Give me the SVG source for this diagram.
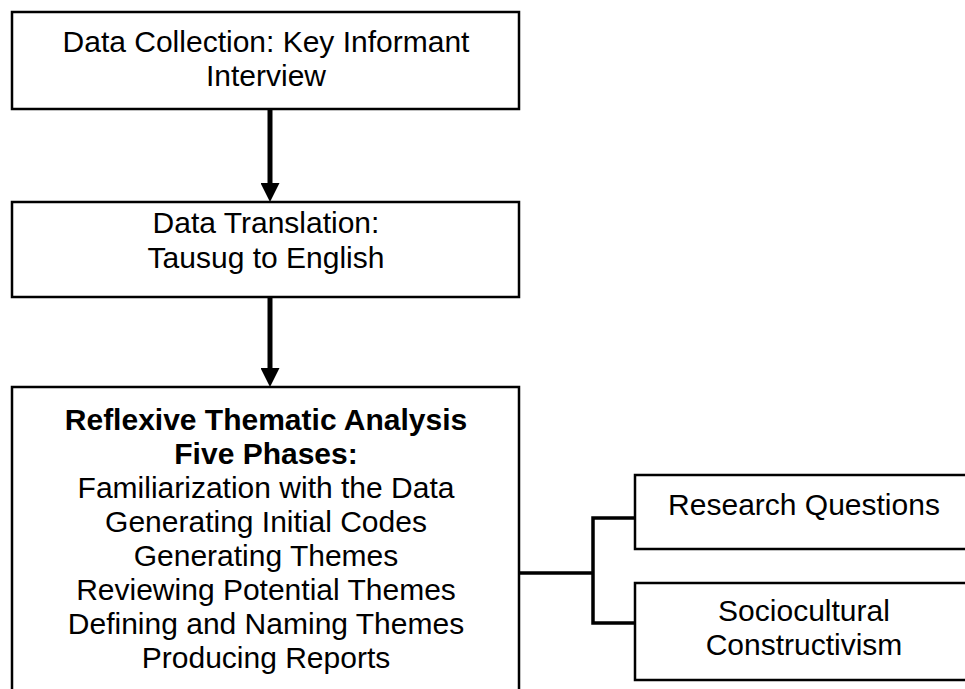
<svg xmlns="http://www.w3.org/2000/svg" width="965" height="689" viewBox="0 0 965 689">
<style>
.box{fill:#fff;stroke:#000;stroke-width:2.5}
.t{font-family:"Liberation Sans",Arial,sans-serif;font-size:30px;fill:#000;text-anchor:middle}
.b{font-weight:bold}
.arrow{stroke:#000;stroke-width:5;fill:none}
.bracket{stroke:#000;stroke-width:3.5;fill:none}
</style>
<defs>
<marker id="ah" markerUnits="userSpaceOnUse" markerWidth="19" markerHeight="19" refX="7" refY="9.5" orient="auto" viewBox="0 0 19 19">
<path d="M0,0 L19,9.5 L0,19 z" fill="#000"/>
</marker>
</defs>
<g id="n1">
<rect class="box" x="12" y="12" width="507" height="97"/>
<text class="t" x="266" y="52">Data Collection: Key Informant</text>
<text class="t" x="266" y="86">Interview</text>
</g>
<g id="n2">
<rect class="box" x="12" y="202" width="507" height="95"/>
<text class="t" x="266" y="233">Data Translation:</text>
<text class="t" x="266" y="268">Tausug to English</text>
</g>
<g id="n3">
<path class="box" d="M12,695 V387 H519 V695"/>
<text class="t b" x="266" y="430">Reflexive Thematic Analysis</text>
<text class="t b" x="266" y="464">Five Phases:</text>
<text class="t" x="266" y="498">Familiarization with the Data</text>
<text class="t" x="266" y="532">Generating Initial Codes</text>
<text class="t" x="266" y="566">Generating Themes</text>
<text class="t" x="266" y="600">Reviewing Potential Themes</text>
<text class="t" x="266" y="634">Defining and Naming Themes</text>
<text class="t" x="266" y="668">Producing Reports</text>
</g>
<g id="n4">
<rect class="box" x="635" y="475" width="340" height="74"/>
<text class="t" x="804" y="515">Research Questions</text>
</g>
<g id="n5">
<rect class="box" x="635" y="583" width="340" height="97"/>
<text class="t" x="804" y="621">Sociocultural</text>
<text class="t" x="804" y="655">Constructivism</text>
</g>
<g id="connectors">
<line class="arrow" x1="270" y1="110" x2="270" y2="190" marker-end="url(#ah)"/>
<line class="arrow" x1="270" y1="298" x2="270" y2="375" marker-end="url(#ah)"/>
<path class="bracket" d="M520,573 H593"/>
<path class="bracket" d="M634,518 H593 V623 H634"/>
</g>
</svg>
